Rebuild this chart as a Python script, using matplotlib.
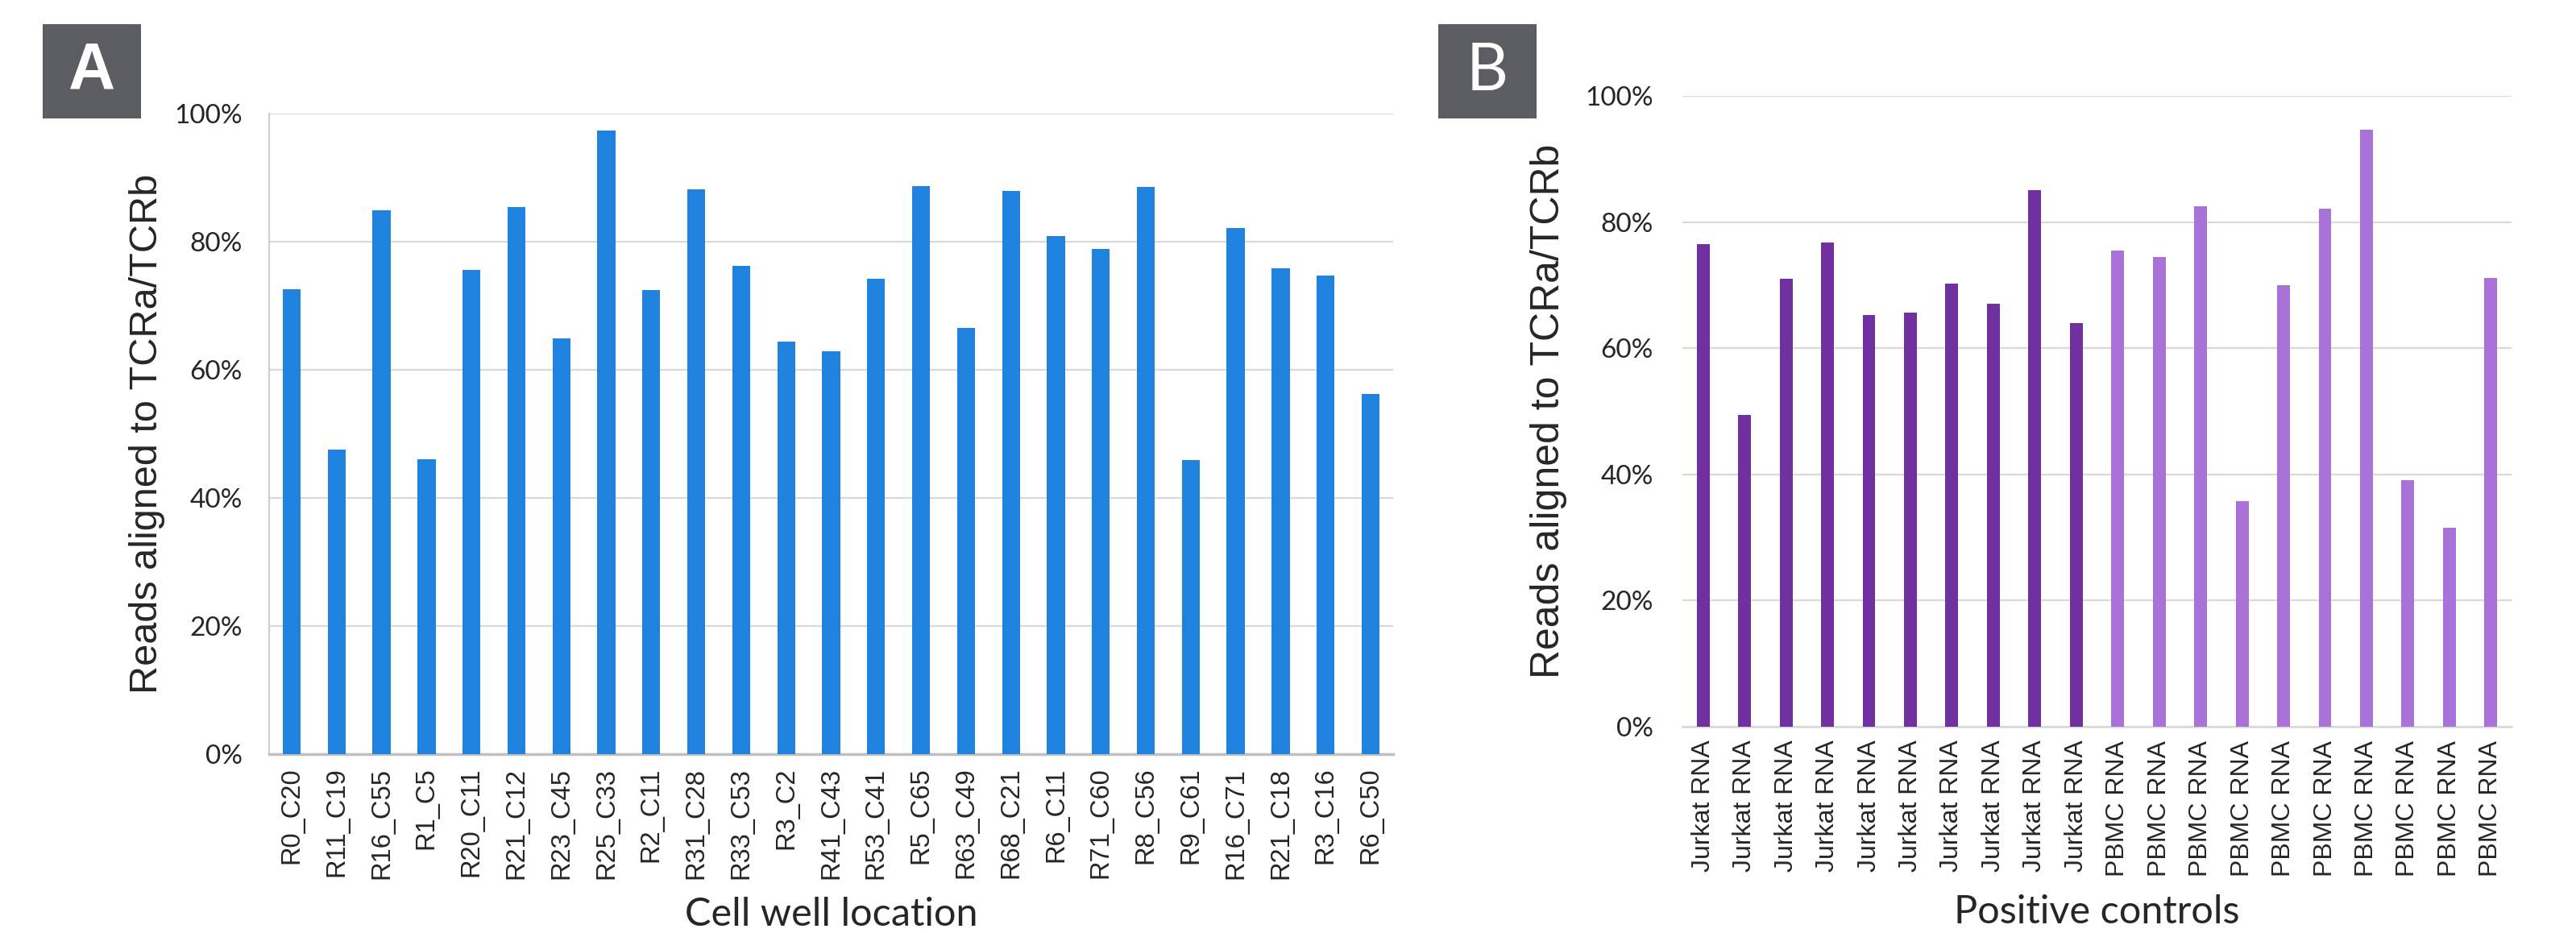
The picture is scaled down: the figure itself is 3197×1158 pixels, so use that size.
import matplotlib
matplotlib.use("Agg")
import matplotlib.pyplot as plt
from matplotlib.patches import Rectangle
from matplotlib.ticker import PercentFormatter

# panel A: single cells by well location
wells = ['R0_C20', 'R11_C19', 'R16_C55', 'R1_C5', 'R20_C11', 'R21_C12', 'R23_C45',
         'R25_C33', 'R2_C11', 'R31_C28', 'R33_C53', 'R3_C2', 'R41_C43', 'R53_C41',
         'R5_C65', 'R63_C49', 'R68_C21', 'R6_C11', 'R71_C60', 'R8_C56', 'R9_C61',
         'R16_C71', 'R21_C18', 'R3_C16', 'R6_C50']
well_vals = [0.726, 0.476, 0.849, 0.460, 0.756, 0.854, 0.649, 0.974, 0.725, 0.882,
             0.762, 0.644, 0.629, 0.742, 0.887, 0.666, 0.879, 0.809, 0.789, 0.885,
             0.459, 0.822, 0.758, 0.747, 0.562]

# panel B: positive controls
controls = ['Jurkat RNA'] * 10 + ['PBMC RNA'] * 10
control_vals = [0.765, 0.494, 0.710, 0.768, 0.653, 0.657, 0.702, 0.670, 0.851, 0.640,
                0.755, 0.744, 0.825, 0.358, 0.700, 0.821, 0.947, 0.391, 0.316, 0.711]

blue = '#1e82de'
jurkat_col = '#7030a0'
pbmc_col = '#a872d8'
grid_col = '#d9d9d9'
text_col = '#262626'

tick_font = 'Lato'
label_font = 'Liberation Sans'

fig = plt.figure(figsize=(31.97, 11.58), dpi=100)

# ---- panel A
axA = fig.add_axes([0.1045, 0.1917, 0.4363, 0.6865])
axA.bar(range(len(wells)), well_vals, width=0.40, color=blue, zorder=3)
axA.set_xlim(-0.5, len(wells) - 0.5)
axA.set_ylim(0, 1)
axA.set_yticks([0, 0.2, 0.4, 0.6, 0.8, 1.0])
axA.yaxis.set_major_formatter(PercentFormatter(1.0, decimals=0))
axA.set_xticks(range(len(wells)))
axA.set_xticklabels(wells, rotation=90, family=label_font, fontsize=23.5, color=text_col)
axA.grid(axis='y', color=grid_col, linewidth=1.6, zorder=0)
for s in ['top', 'right']:
    axA.spines[s].set_visible(False)
axA.spines['left'].set_color('#cfcfcf')
axA.spines['left'].set_linewidth(1.6)
axA.spines['bottom'].set_color('#bfbfbf')
axA.spines['bottom'].set_linewidth(2.5)
axA.tick_params(axis='both', length=0)
axA.tick_params(axis='x', pad=12)
axA.tick_params(axis='y', pad=24)
for t in axA.get_yticklabels():
    t.set_family(tick_font)
    t.set_fontsize(24)
    t.set_color(text_col)
axA.set_ylabel('Reads aligned to TCRa/TCRb', family=label_font, fontsize=35,
               color=text_col, labelpad=8)
axA.set_xlabel('Cell well location', family=tick_font, fontsize=35, color=text_col,
               labelpad=16)

# ---- panel B
axB = fig.add_axes([0.6531, 0.2211, 0.3219, 0.6761])
colsB = [jurkat_col if c.startswith('Jurkat') else pbmc_col for c in controls]
axB.bar(range(len(controls)), control_vals, width=0.31, color=colsB, zorder=3)
axB.set_xlim(-0.5, len(controls) - 0.5)
axB.set_ylim(0, 1)
axB.set_yticks([0, 0.2, 0.4, 0.6, 0.8, 1.0])
axB.yaxis.set_major_formatter(PercentFormatter(1.0, decimals=0))
axB.set_xticks(range(len(controls)))
axB.set_xticklabels(controls, rotation=90, family=label_font, fontsize=23, color=text_col)
axB.grid(axis='y', color=grid_col, linewidth=1.6, zorder=0)
for s in ['top', 'right', 'left']:
    axB.spines[s].set_visible(False)
axB.spines['bottom'].set_color(grid_col)
axB.spines['bottom'].set_linewidth(1.8)
axB.tick_params(axis='both', length=0)
axB.tick_params(axis='x', pad=12)
axB.tick_params(axis='y', pad=26)
for t in axB.get_yticklabels():
    t.set_family(tick_font)
    t.set_fontsize(24)
    t.set_color(text_col)
axB.set_ylabel('Reads aligned to TCRa/TCRb', family=label_font, fontsize=36,
               color=text_col, labelpad=16)
axB.set_xlabel('Positive controls', family=tick_font, fontsize=35, color=text_col,
               labelpad=16)

# panel badges
for x0, letter, weight in [(53, 'A', 'bold'), (1785, 'B', 'normal')]:
    fig.patches.append(Rectangle((x0 / 3197, 1 - 147 / 1158), 122 / 3197, 117 / 1158,
                                 transform=fig.transFigure, facecolor='#5c5d62',
                                 edgecolor='none'))
    fig.text((x0 + 61) / 3197, 1 - 88.5 / 1158, letter, color='white', fontsize=58,
             fontweight=weight, family='Liberation Sans' if letter == 'A' else 'Lato',
             ha='center', va='center')

fig.savefig('out.png', dpi=100, facecolor='white')
